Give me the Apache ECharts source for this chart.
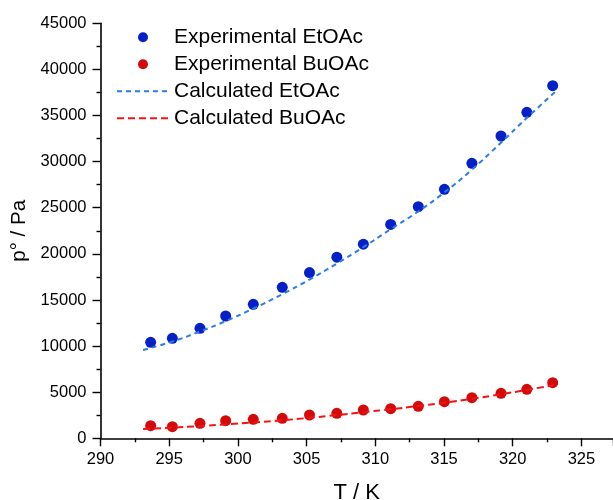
<!DOCTYPE html>
<html>
<head>
<meta charset="utf-8">
<script src="https://cdn.jsdelivr.net/npm/echarts@6/dist/echarts.min.js"></script>
<style>html,body{margin:0;padding:0;background:#fff;}#c{width:613px;height:500px;}</style>
</head>
<body>
<div id="c"></div>
<script>
const expT = [293.65, 295.23, 297.24, 299.11, 301.12, 303.23, 305.21, 307.2, 309.13, 311.12, 313.13, 315.03, 317.03, 319.15, 321.03, 322.91];
const expEtOAc = [10410, 10843, 11927, 13261, 14530, 16373, 17975, 19640, 21050, 23190, 25113, 27000, 29819, 32779, 35349, 38241];
const expBuOAc = [1366, 1258, 1626, 1909, 2060, 2168, 2527, 2711, 3069, 3210, 3470, 3969, 4403, 4880, 5313, 6030];
const calcT = [293.1, 295.2, 297.2, 299.1, 301.1, 303.2, 305.2, 307.2, 309.1, 311.1, 313.1, 315.0, 317.0, 319.1, 321.0, 323.1];
const calcEtOAc = [9580, 10480, 11560, 12700, 14050, 15600, 17200, 18950, 20700, 22650, 24570, 26630, 29090, 31990, 34700, 37580];
const calcBuOAc = [1010, 1160, 1320, 1500, 1710, 1950, 2220, 2520, 2830, 3150, 3500, 3860, 4280, 4760, 5250, 5780];
const names = ['Experimental EtOAc', 'Experimental BuOAc', 'Calculated EtOAc', 'Calculated BuOAc'];

const zip = (xs, ys) => xs.map((x, i) => [x, ys[i]]);
const font = 'Liberation Sans, Arial, sans-serif';
const chart = echarts.init(document.getElementById('c'), null, {renderer: 'canvas'});
const axisCommon = {
  axisLine: {show: true, lineStyle: {color: '#000', width: 1.6}},
  axisTick: {show: true, length: 8, lineStyle: {color: '#000', width: 1.4}},
  minorTick: {show: true, splitNumber: 2, length: 4, lineStyle: {color: '#000', width: 1.4}},
  splitLine: {show: false}
};
chart.setOption({
  animation: false,
  backgroundColor: '#fff',
  grid: {left: 100.5, right: 0, top: 23.3, bottom: 61.7, containLabel: false, outerBoundsMode: 'none'},
  legend: {
    data: [
      {name: names[0]},
      {name: names[1]},
      {name: names[2], itemStyle: {opacity: 0}},
      {name: names[3], itemStyle: {opacity: 0}}
    ],
    orient: 'vertical',
    left: 111, top: 21.7,
    itemWidth: 52, itemHeight: 10, itemGap: 6,
    textStyle: {fontFamily: font, fontSize: 21, color: '#000'}
  },
  xAxis: Object.assign({}, axisCommon, {
    type: 'value', min: 290, max: 327.3, interval: 5,
    name: 'T / K', nameLocation: 'middle', nameGap: 44,
    nameTextStyle: {fontFamily: font, fontSize: 22, color: '#000'},
    axisLabel: {fontFamily: font, fontSize: 16.5, color: '#000', margin: 13, showMaxLabel: false}
  }),
  yAxis: Object.assign({}, axisCommon, {
    type: 'value', min: 0, max: 45000, interval: 5000,
    name: 'p° / Pa', nameLocation: 'middle', nameGap: 67,
    nameTextStyle: {fontFamily: font, fontSize: 20.5, color: '#000'},
    axisLabel: {fontFamily: font, fontSize: 16.5, color: '#000', margin: 14, formatter: v => String(v)}
  }),
  series: [
    {name: names[0], type: 'scatter', data: zip(expT, expEtOAc), symbol: 'circle', symbolSize: 11, itemStyle: {color: '#0520c6', opacity: 1}, z: 3},
    {name: names[1], type: 'scatter', data: zip(expT, expBuOAc), symbol: 'circle', symbolSize: 11, itemStyle: {color: '#d40a0a', opacity: 1}, z: 3},
    {name: names[2], type: 'line', data: zip(calcT, calcEtOAc), smooth: true, symbol: 'none', showSymbol: false,
     itemStyle: {color: '#2a7de6'}, lineStyle: {color: '#2a7de6', width: 2, type: [5, 4]}, z: 4},
    {name: names[3], type: 'line', data: zip(calcT, calcBuOAc), smooth: true, symbol: 'none', showSymbol: false,
     itemStyle: {color: '#f21414'}, lineStyle: {color: '#f21414', width: 2, type: [7, 4]}, z: 4}
  ]
});
</script>
</body>
</html>
